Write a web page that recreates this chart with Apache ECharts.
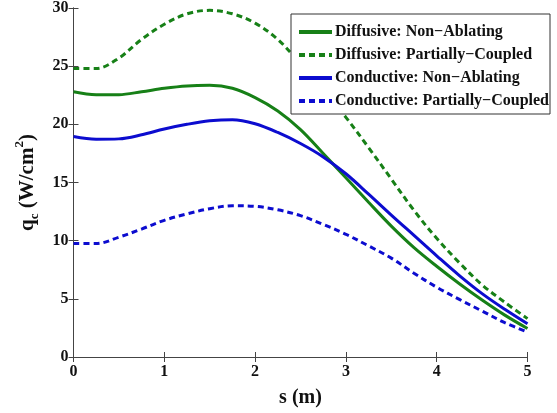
<!DOCTYPE html>
<html>
<head>
<meta charset="utf-8">
<script src="https://cdn.jsdelivr.net/npm/echarts@6/dist/echarts.min.js"></script>
<style>
  html, body { margin: 0; padding: 0; background: #fff; }
  #chart { width: 557px; height: 413px; }
</style>
</head>
<body>
<div id="chart"></div>
<script>
// Arc length along the surface, s (m)
const sValues = [0, 0.25, 0.5, 0.75, 1.0, 1.25, 1.5, 1.75, 2.0, 2.25, 2.5,
                 2.75, 3.0, 3.25, 3.5, 3.75, 4.0, 4.25, 4.5, 4.75, 5.0];

// Convective heat flux q_c (W/cm^2) for each model
const diffusiveNonAblating = [22.8, 22.55, 22.55, 22.8, 23.1, 23.3, 23.35, 23.1, 22.3, 21.15, 19.55,
                              17.5, 15.4, 13.3, 11.25, 9.4, 7.8, 6.3, 4.9, 3.6, 2.45];
const diffusivePartiallyCoupled = [24.8, 24.8, 25.7, 27.3, 28.6, 29.5, 29.8, 29.5, 28.7, 27.3, 25.2,
                                   23.0, 20.6, 18.0, 15.3, 12.6, 10.2, 8.1, 6.2, 4.7, 3.3];
const conductiveNonAblating = [18.95, 18.72, 18.75, 19.1, 19.6, 20.0, 20.3, 20.4, 20.05, 19.3, 18.35,
                               17.2, 15.75, 14.0, 12.2, 10.45, 8.7, 7.0, 5.45, 4.1, 2.85];
const conductivePartiallyCoupled = [9.75, 9.75, 10.3, 11.0, 11.75, 12.3, 12.75, 13.0, 12.95, 12.65, 12.15,
                                    11.4, 10.55, 9.55, 8.5, 7.2, 6.0, 4.95, 3.95, 2.95, 2.15];

const seriesNames = [
  'Diffusive: Non\u2212Ablating',
  'Diffusive: Partially\u2212Coupled',
  'Conductive: Non\u2212Ablating',
  'Conductive: Partially\u2212Coupled'
];

const xTicks = { min: 0, max: 5, interval: 1 };
const yTicks = { min: 0, max: 30, interval: 5 };

const GREEN = '#178017';
const BLUE = '#0c0ccf';
const FONT = '"Liberation Serif", "Times New Roman", serif';

function pairs(ys) {
  return sValues.map((s, i) => [s, ys[i]]);
}

function lineSeries(name, ys, color, dashed) {
  return {
    name: name,
    type: 'line',
    data: pairs(ys),
    smooth: 0.35,
    symbol: 'none',
    lineStyle: { color: color, width: 3, type: dashed ? [6, 4] : 'solid' },
    itemStyle: { color: color },
    z: 3
  };
}

const axisLineStyle = { lineStyle: { color: '#444', width: 1 } };
const tickStyle = { inside: true, length: 5, lineStyle: { color: '#444', width: 1 } };
const labelStyle = { color: '#111', fontFamily: FONT, fontWeight: 'bold', fontSize: 16 };

const chart = echarts.init(document.getElementById('chart'), null, { renderer: 'canvas' });

chart.setOption({
  backgroundColor: '#fff',
  animation: false,
  grid: { left: 73.5, right: 29.5, top: 7, bottom: 47.3, containLabel: false },
  legend: {
    orient: 'vertical',
    left: 291,
    top: 14,
    padding: [10, 1, 5, 6],
    itemWidth: 33,
    itemHeight: 15,
    itemGap: 7,
    backgroundColor: '#fff',
    borderColor: '#333',
    borderWidth: 1,
    borderRadius: 0,
    itemStyle: { opacity: 0 },
    lineStyle: { width: 4 },
    textStyle: { color: '#111', fontFamily: FONT, fontWeight: 'bold', fontSize: 16, padding: [0, 0, 0, -2] },
    data: seriesNames,
    z: 10
  },
  xAxis: [
    {
      type: 'value',
      min: xTicks.min, max: xTicks.max, interval: xTicks.interval,
      position: 'bottom',
      name: 's (m)',
      nameLocation: 'middle',
      nameGap: 31,
      nameTextStyle: { color: '#111', fontFamily: FONT, fontWeight: 'bold', fontSize: 20 },
      axisLine: axisLineStyle,
      axisTick: tickStyle,
      axisLabel: Object.assign({ margin: 7 }, labelStyle),
      splitLine: { show: false }
    },
    {
      type: 'value',
      min: xTicks.min, max: xTicks.max, interval: xTicks.interval,
      position: 'top',
      axisLine: axisLineStyle,
      axisTick: tickStyle,
      axisLabel: { show: false },
      splitLine: { show: false }
    }
  ],
  yAxis: [
    {
      type: 'value',
      min: yTicks.min, max: yTicks.max, interval: yTicks.interval,
      position: 'left',
      name: '{b|q}{sub|c}{b| (W/cm}{sup|2}{b|)}',
      nameLocation: 'middle',
      nameRotate: 90,
      nameGap: 32,
      nameTextStyle: {
        rich: {
          b: { color: '#111', fontFamily: FONT, fontWeight: 'bold', fontSize: 21, lineHeight: 28, verticalAlign: 'middle' },
          sub: { color: '#111', fontFamily: FONT, fontWeight: 'bold', fontSize: 13, lineHeight: 13, verticalAlign: 'bottom' },
          sup: { color: '#111', fontFamily: FONT, fontWeight: 'bold', fontSize: 13, lineHeight: 13, verticalAlign: 'top' }
        }
      },
      axisLine: axisLineStyle,
      axisTick: tickStyle,
      axisLabel: Object.assign({ margin: 5 }, labelStyle),
      splitLine: { show: false }
    },
    {
      type: 'value',
      min: yTicks.min, max: yTicks.max, interval: yTicks.interval,
      position: 'right',
      axisLine: axisLineStyle,
      axisTick: tickStyle,
      axisLabel: { show: false },
      splitLine: { show: false }
    }
  ],
  series: [
    lineSeries(seriesNames[0], diffusiveNonAblating, GREEN, false),
    lineSeries(seriesNames[1], diffusivePartiallyCoupled, GREEN, true),
    lineSeries(seriesNames[2], conductiveNonAblating, BLUE, false),
    lineSeries(seriesNames[3], conductivePartiallyCoupled, BLUE, true)
  ]
});
</script>
</body>
</html>
